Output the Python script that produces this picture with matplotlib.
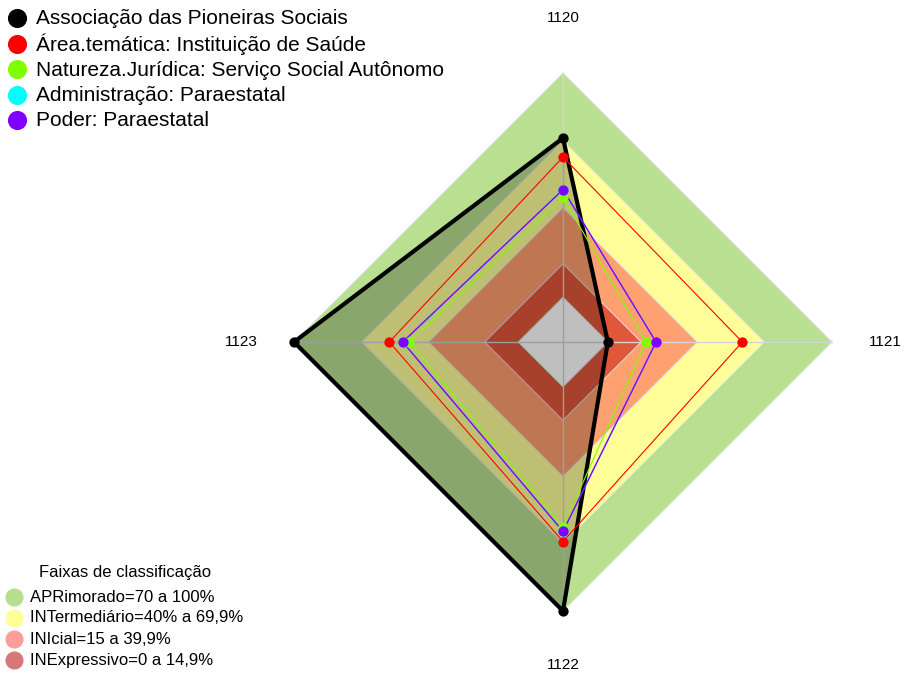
import numpy as np
import matplotlib
matplotlib.use("Agg")
import matplotlib.pyplot as plt

plt.rcParams['font.family'] = ['Liberation Sans', 'DejaVu Sans']

# eixos do radar (sentido horario a partir do topo)
eixos = ['1120', '1121', '1122', '1123']

# series
nomes = ['Associação das Pioneiras Sociais',
         'Área.temática: Instituição de Saúde',
         'Natureza.Jurídica: Serviço Social Autônomo',
         'Administração: Paraestatal',
         'Poder: Paraestatal']
v_assoc = [71, 0, 100, 100]
v_area = [62.5, 60, 69, 57.5]
v_natureza = [44.5, 17, 62.5, 48.5]
v_admin = [48, 21.5, 64.5, 51.5]
v_poder = [48, 21.5, 64.5, 51.5]
cores = ['black', 'red', '#7fff00', '#00ffff', '#8000ff']

# faixas de classificacao
faixas = ['APRimorado=70 a 100%', 'INTermediário=40% a 69,9%',
          'INIcial=15 a 39,9%', 'INExpressivo=0 a 14,9%']
limites = [100, 69.9, 39.9, 14.9]
cores_faixas = ['#b8e090', '#ffff9a', '#ffa070', '#e0583a']
cores_leg = ['#b5df8c', '#ffff99', '#ff9c9c', '#d67878']

# geometria (em pixels)
W, H = 905, 673
cx, cy = 563, 342
R = 269
ang = np.pi / 2 - np.arange(len(eixos)) * 2 * np.pi / len(eixos)


def raio(v):
    # estilo fmsb: zero fica em 1/6 do raio
    return R * (1 + 5 * np.asarray(v, dtype=float) / 100) / 6


def xy(v):
    r = raio(v)
    return cx + r * np.cos(ang), cy - r * np.sin(ang)


fig = plt.figure(figsize=(W / 100, H / 100), dpi=100)
ax = fig.add_axes([0, 0, 1, 1])
ax.set_xlim(0, W)
ax.set_ylim(H, 0)
ax.axis('off')

# faixas
for lim, c in zip(limites, cores_faixas):
    x, y = xy([lim] * 4)
    ax.fill(x, y, color=c, ec='#e0e0e0', lw=0.7, zorder=1)
x, y = xy([0] * 4)
ax.fill(x, y, color='white', ec='#e0e0e0', lw=0.7, zorder=1)

# linhas dos eixos
for a in ang:
    ax.plot([cx, cx + R * np.cos(a)], [cy, cy - R * np.sin(a)],
            color='#d4d4d4', lw=1, zorder=2)

# series
series = [v_assoc, v_area, v_natureza, v_admin, v_poder]
for i, (v, c) in enumerate(zip(series, cores)):
    x, y = xy(v)
    xs = np.append(x, x[0])
    ys = np.append(y, y[0])
    if i == 0:
        ax.fill(x, y, color='black', alpha=0.25, lw=0, zorder=3)
        ax.plot(xs, ys, color=c, lw=3, zorder=4)
    else:
        ax.plot(xs, ys, color=c, lw=0.8 if i < 4 else 1.0, zorder=4 + i)
    ax.scatter(x, y, s=55, color=c, zorder=10 + i, lw=0)

# rotulos dos eixos
pos_rot = [(cx, 18), (885, cy), (cx, 665), (241, cy)]
for lab, (px, py) in zip(eixos, pos_rot):
    ax.text(px, py, lab, ha='center', va='center', fontsize=11)

# legenda das series
for i, (n, c) in enumerate(zip(nomes, cores)):
    yy = 18 + i * 25.5
    ax.scatter(17, yy, s=190, color=c, lw=0, clip_on=False)
    ax.text(36, yy + 1, n, ha='left', va='center', fontsize=15)

# legenda das faixas
ax.text(125, 572, 'Faixas de classificação', ha='center', va='center', fontsize=12)
for i, (f, c) in enumerate(zip(faixas, cores_leg)):
    yy = 597 + i * 21
    ax.scatter(14, yy, s=170, color=c, lw=0, clip_on=False)
    ax.text(30, yy, f, ha='left', va='center', fontsize=12)

fig.savefig('out.png', dpi=100)
